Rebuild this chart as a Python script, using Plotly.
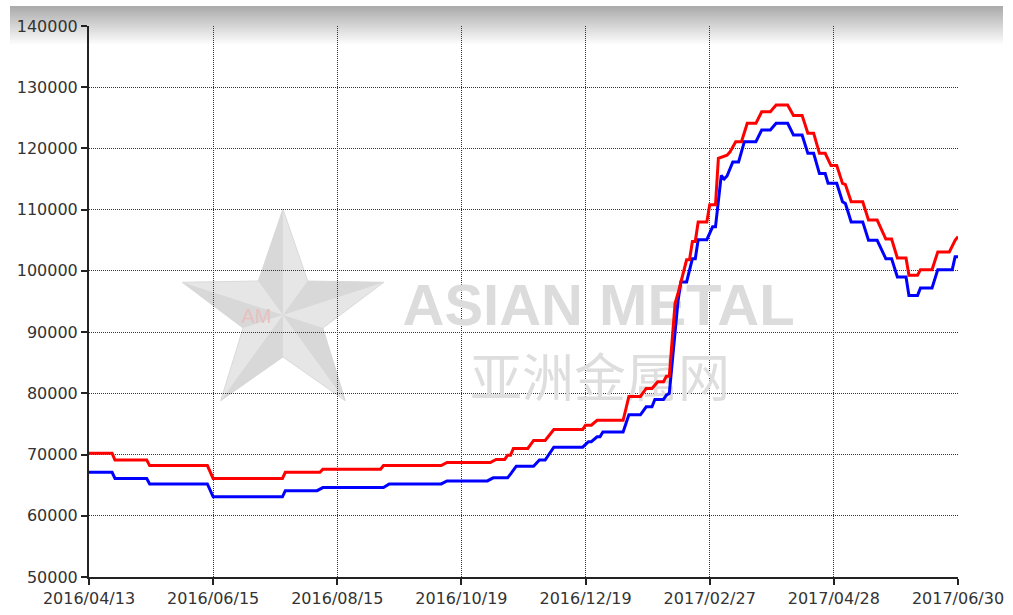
import math
import plotly.graph_objects as go

# ---- data (x = trading-day index) ----
tick_labels = ["2016/04/13", "2016/06/15", "2016/08/15", "2016/10/19",
               "2016/12/19", "2017/02/27", "2017/04/28", "2017/06/30"]
tick_index = [0, 43, 86, 129, 172, 215, 258, 301]

red_x = [0, 8, 9, 20, 21, 41, 43, 67, 68, 80, 81, 101, 102, 122, 124, 139, 141, 144, 145, 146,
         147, 152, 154, 158, 161, 171, 172, 174, 176, 185, 186, 187, 191, 193, 195, 197, 199, 200, 201, 203,
         204, 206, 207, 208, 209, 210, 211, 214, 215, 217, 218, 221, 222, 224, 226, 228, 231, 233, 236, 238,
         242, 244, 247, 249, 251, 253, 255, 257, 259, 261, 262, 264, 268, 270, 273, 276, 278, 280, 283, 284,
         287, 288, 292, 294, 298, 300, 301]
red_y = [70200, 70200, 69100, 69100, 68200, 68200, 66100, 66100, 67100, 67100,
         67600, 67600, 68200, 68200, 68700, 68700, 69200, 69200, 69900, 69900,
         71000, 71000, 72300, 72300, 74100, 74100, 74800, 74800, 75600, 75600,
         77500, 79500, 79500, 80800, 80800, 81900, 81900, 82800, 82800, 94700,
         96300, 100100, 101800, 101800, 104800, 104800, 108000, 108000, 110800, 110800,
         118400, 118900, 119400, 121100, 121100, 124100, 124100, 126000, 126000, 127100,
         127100, 125400, 125400, 122500, 122500, 119200, 119200, 117200, 117200, 114300,
         114100, 111300, 111300, 108300, 108300, 105200, 105200, 102100, 102100, 99300,
         99300, 100200, 100200, 103100, 103100, 105000, 105600]

blue_x = [0, 8, 9, 20, 21, 41, 43, 67, 68, 79, 81, 102, 104, 122, 124, 138, 140, 145, 146, 148,
          154, 156, 158, 161, 171, 173, 174, 176, 177, 178, 185, 187, 191, 193, 195, 196, 199, 200, 201, 204,
          205, 207, 209, 210, 211, 214, 216, 217, 219, 220, 221, 223, 225, 227, 231, 233, 236, 238, 242, 244,
          247, 249, 251, 253, 255, 256, 259, 261, 262, 264, 268, 270, 273, 276, 278, 280, 283, 284, 287, 288,
          292, 294, 299, 300, 301]
blue_y = [67100, 67100, 66100, 66100, 65200, 65200, 63100, 63100, 64100, 64100,
          64600, 64600, 65200, 65200, 65700, 65700, 66200, 66200, 66800, 68100,
          68100, 69100, 69100, 71200, 71200, 72100, 72100, 72900, 72900, 73700,
          73700, 76500, 76500, 77800, 77800, 79000, 79000, 79700, 80000, 95000,
          98200, 98200, 102000, 102000, 105100, 105100, 107200, 107200, 115600, 115000,
          115500, 117800, 117800, 121100, 121100, 123000, 123000, 124100, 124100, 122200,
          122200, 119200, 119200, 115900, 115900, 114300, 114300, 111300, 111000, 108000,
          108000, 105000, 105000, 102000, 102000, 99000, 99000, 96000, 96000, 97200,
          97200, 100200, 100200, 102300, 102300]

W, H = 1013, 615
ML, MR, MT, MB = 89, 55, 26, 38
PW, PH = W - ML - MR, H - MT - MB


def px2paper(px, py):
    return (px - ML) / PW, (H - MB - py) / PH


fig = go.Figure()

# watermark text (drawn under the lines)
fig.add_trace(go.Scatter(x=[176.5], y=[93600], mode="text", text=["<b>ASIAN METAL</b>"],
                         textfont=dict(family="Liberation Sans", size=58, color="#dcdcdc"),
                         hoverinfo="skip", showlegend=False, cliponaxis=False))
fig.add_trace(go.Scatter(x=[177], y=[81600], mode="text", text=["亚洲金属网"],
                         textfont=dict(family="Noto Sans CJK SC", size=52, color="#dedede"),
                         hoverinfo="skip", showlegend=False, cliponaxis=False))
fig.add_trace(go.Scatter(x=[58], y=[92300], mode="text", text=["AM"],
                         textfont=dict(family="Liberation Sans", size=20, color="#e8c0c0"),
                         hoverinfo="skip", showlegend=False, cliponaxis=False))

fig.add_trace(go.Scatter(x=blue_x, y=blue_y, mode="lines",
                         line=dict(color="#0000ff", width=3), showlegend=False))
fig.add_trace(go.Scatter(x=red_x, y=red_y, mode="lines",
                         line=dict(color="#ff0000", width=3), showlegend=False))

shapes = []
# top gradient band
y0, y1 = 6, 46
n = 20
for i in range(n):
    t = i / (n - 1)
    c = int(172 + (255 - 172) * t)
    pa = px2paper(10, y0 + (y1 - y0) * i / n)
    pb = px2paper(1003, y0 + (y1 - y0) * (i + 1) / n)
    shapes.append(dict(type="rect", xref="paper", yref="paper", layer="below",
                       x0=pa[0], x1=pb[0], y0=pa[1], y1=pb[1] - 0.0005,
                       line=dict(width=0), fillcolor=f"rgb({c},{c},{c})"))

# watermark star
cx, cy, R, r = 283, 315, 106, 42
pts = []
for k in range(10):
    ang = math.radians(90 + 36 * k)
    rad = R if k % 2 == 0 else r
    pts.append(px2paper(cx + rad * math.cos(ang), cy - rad * math.sin(ang)))
path = "M " + " L ".join(f"{a:.4f},{b:.4f}" for a, b in pts) + " Z"
shapes.append(dict(type="path", xref="paper", yref="paper", layer="below", path=path,
                   fillcolor="#e6e6e6", line=dict(color="#dadada", width=1)))
cpt = px2paper(cx, cy)
for k in range(0, 10, 2):
    a = pts[k]
    b = pts[(k + 1) % 10]
    p = f"M {cpt[0]:.4f},{cpt[1]:.4f} L {a[0]:.4f},{a[1]:.4f} L {b[0]:.4f},{b[1]:.4f} Z"
    shapes.append(dict(type="path", xref="paper", yref="paper", layer="below", path=p,
                       fillcolor="#d8d8d8", line=dict(width=0)))

axis_common = dict(showgrid=True, gridcolor="#333333", gridwidth=1, griddash="1px,1px",
                   showline=True, linecolor="#222222", linewidth=2,
                   ticks="outside", ticklen=6, tickwidth=2, tickcolor="#222222",
                   zeroline=False, automargin=False, tickfont=dict(size=16))

fig.update_layout(
    width=W, height=H,
    margin=dict(l=ML, r=MR, t=MT, b=MB),
    paper_bgcolor="white", plot_bgcolor="rgba(0,0,0,0)",
    shapes=shapes,
    font=dict(family="DejaVu Sans", size=16, color="#333333"),
    xaxis=dict(range=[0, 301], tickvals=tick_index, ticktext=tick_labels, **axis_common),
    yaxis=dict(range=[50000, 140000], tickvals=list(range(50000, 140001, 10000)),
               ticktext=[str(v) for v in range(50000, 140001, 10000)], **axis_common),
)

fig.write_html("out.html", config={"displayModeBar": False},
               post_script="document.body.style.margin='0';document.body.style.padding='0';")
